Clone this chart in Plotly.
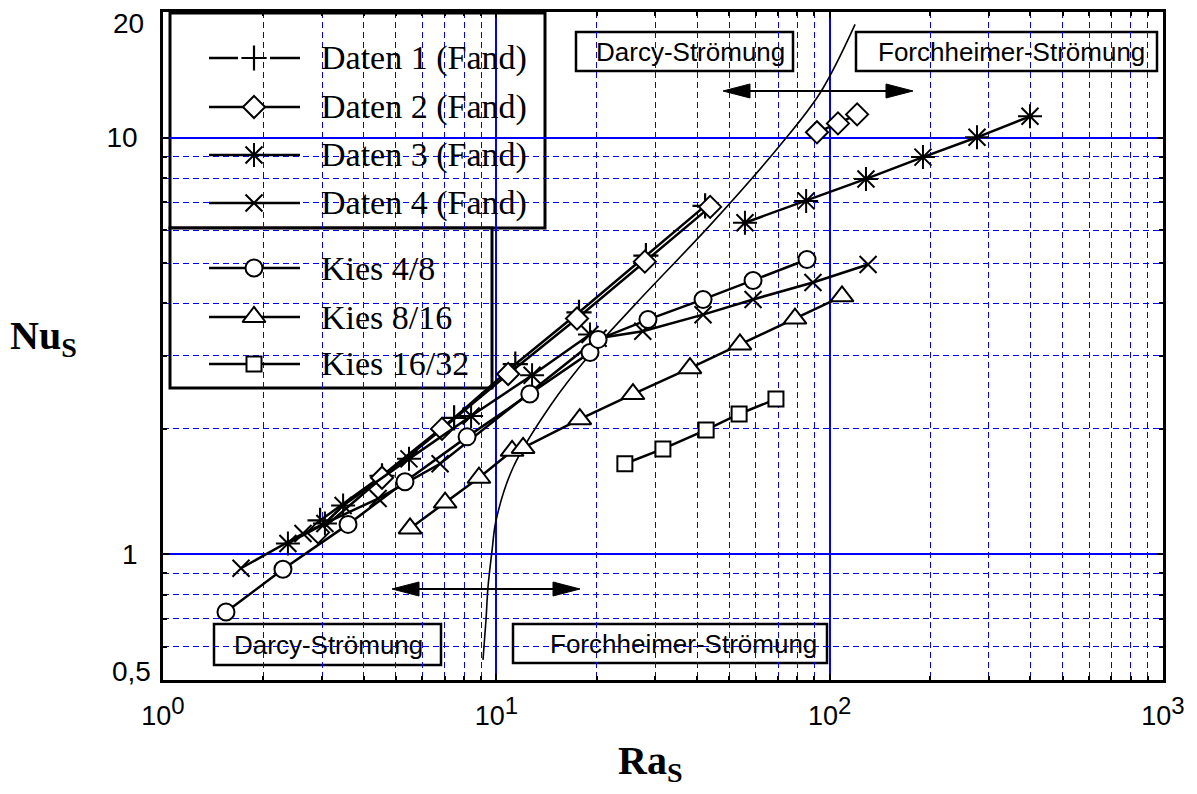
import math
import plotly.graph_objects as go

# ---------------- data ----------------
daten1_x = [2.96, 4.54, 7.47, 11.4, 17.7, 28.1, 42.3]
daten1_y = [1.206, 1.544, 2.126, 2.86, 3.81, 5.21, 6.86]

daten2_x = [2.92, 4.54, 6.87, 10.85, 17.46, 27.9, 43.8, None, 91.6, 105.9, 120.9]
daten2_y = [1.129, 1.527, 2.0, 2.71, 3.68, 5.04, 6.82, None, 10.3, 10.82, 11.37]

daten3_x = [2.37, 3.06, 3.47, 5.47, 8.40, 12.8, 19.1, None, 55.7, 85.0, 128.5, 190.5, 276.7, 399]
daten3_y = [1.062, 1.186, 1.31, 1.695, 2.148, 2.69, 3.37, None, 6.25, 7.05, 7.96, 8.98, 10.02, 11.25]

daten4_x = [1.714, 2.63, 4.42, 6.78, 20.2, 27.5, 41.7, 58.9, 89.1, 130.4]
daten4_y = [0.926, 1.122, 1.361, 1.65, 3.30, 3.43, 3.76, 4.09, 4.49, 4.96]

kies48_x = [1.545, 2.29, 3.59, 5.32, 8.17, 12.6, 19.1, 20.2, 28.5, 41.7, 58.9, 85.5]
kies48_y = [0.727, 0.921, 1.18, 1.494, 1.914, 2.425, 3.05, 3.28, 3.66, 4.09, 4.54, 5.10]

kies816_x = [5.51, 7.02, 8.87, 11.15, 12.03, 17.8, 25.7, 38.1, 53.8, 78.7, 108.9]
kies816_y = [1.154, 1.331, 1.527, 1.772, 1.801, 2.11, 2.425, 2.797, 3.19, 3.68, 4.16]

kies1632_x = [24.3, 31.6, 42.6, 53.5, 69.0]
kies1632_y = [1.650, 1.791, 1.989, 2.172, 2.358]

grenze_x = [9.12, 9.31, 9.44, 9.71, 9.98, 11.22, 14.5, 19.1, 26.1, 44.7, 71.0, 93.6, 119.2]
grenze_y = [0.558, 0.696, 0.834, 1.022, 1.206, 1.614, 2.27, 3.02, 3.98, 6.28, 9.59, 12.8, 18.7]

series_names = ["Daten 1 (Fand)", "Daten 2 (Fand)", "Daten 3 (Fand)", "Daten 4 (Fand)",
                "Kies 4/8", "Kies 8/16", "Kies 16/32"]

x_tickvals = [1, 10, 100, 1000]
x_exponents = ["0", "1", "2", "3"]
y_tickvals = [0.5, 1, 10, 20]
y_ticktext = ["0,5", "1", "10", "20"]
x_minor = [2, 3, 4, 5, 6, 7, 8, 9, 20, 30, 40, 50, 60, 70, 80, 90,
           200, 300, 400, 500, 600, 700, 800, 900]
y_minor = [0.6, 0.7, 0.8, 0.9, 2, 3, 4, 5, 6, 7, 8, 9]

x_ticktext = ["10<sup><span style='font-size:24px'>{}</span></sup>".format(e) for e in x_exponents]

# ---------------- layout geometry (screen pixels) ----------------
OFF = 8                      # default page body margin
W, H = 1197 - OFF, 794 - OFF
L, R, T, B = 163, 1163, 12, 680


def pxx(xp):
    return (xp - L) / (R - L)


def pxy(yp):
    return (B - yp) / (B - T)


SANS = "Liberation Sans, Arial, sans-serif"
SERIF = "Liberation Serif, Times New Roman, serif"

styles = [
    dict(symbol="cross-thin-open", size=18, color="black", line=dict(color="black", width=2.2)),
    dict(symbol="diamond", size=17, color="white", line=dict(color="black", width=2)),
    dict(symbol="asterisk-open", size=20, color="black", line=dict(color="black", width=2)),
    dict(symbol="x-thin-open", size=17, color="black", line=dict(color="black", width=2)),
    dict(symbol="circle", size=17, color="white", line=dict(color="black", width=2)),
    dict(symbol="triangle-up", size=20, color="white", line=dict(color="black", width=2)),
    dict(symbol="square", size=15, color="white", line=dict(color="black", width=2)),
]

xs = [daten1_x, daten2_x, daten3_x, daten4_x, kies48_x, kies816_x, kies1632_x]
ys = [daten1_y, daten2_y, daten3_y, daten4_y, kies48_y, kies816_y, kies1632_y]

fig = go.Figure()

# boundary curve
fig.add_trace(go.Scatter(x=grenze_x, y=grenze_y, mode="lines",
                         line=dict(color="black", width=1.6, shape="spline", smoothing=1.0),
                         showlegend=False, hoverinfo="skip"))

for name, x, y, st in zip(series_names, xs, ys, styles):
    fig.add_trace(go.Scatter(x=x, y=y, mode="lines+markers", name=name,
                             line=dict(color="black", width=2.5),
                             marker=st, showlegend=False, connectgaps=False))

# ---------------- custom legend (two boxes) ----------------
legend_rows_px = [58, 107, 155, 203, 268, 317, 364]
for i, (name, st, ry) in enumerate(zip(series_names, styles, legend_rows_px)):
    yy = pxy(ry)
    if i == 0:
        lx = [pxx(209), pxx(238), None, pxx(270), pxx(300)]
        ly = [yy, yy, None, yy, yy]
    else:
        lx = [pxx(209), pxx(300)]
        ly = [yy, yy]
    fig.add_trace(go.Scatter(x=lx, y=ly, mode="lines", xaxis="x2", yaxis="y2",
                             line=dict(color="black", width=2.5), showlegend=False,
                             hoverinfo="skip"))
    fig.add_trace(go.Scatter(x=[pxx(254)], y=[yy], mode="markers", xaxis="x2", yaxis="y2",
                             marker=st, showlegend=False, hoverinfo="skip"))

annotations = []
for name, ry in zip(series_names, legend_rows_px):
    annotations.append(dict(x=pxx(319), y=pxy(ry), xref="paper", yref="paper",
                            text=name, showarrow=False, xanchor="left", yanchor="middle",
                            font=dict(family=SERIF, size=34, color="black")))

shapes = []


def rect(x0, y0, x1, y1, lw=2.5):
    shapes.append(dict(type="rect", xref="paper", yref="paper",
                       x0=pxx(x0), x1=pxx(x1), y0=pxy(y1), y1=pxy(y0),
                       line=dict(color="black", width=lw), fillcolor="white",
                       layer="between"))


rect(170, 13, 545, 228, 3)
rect(170, 228, 492, 388, 3)
rect(576, 32, 793, 71, 2.5)
rect(856, 32, 1157, 71, 2.5)
rect(214, 624, 441, 665, 2.5)
rect(513, 624, 827, 663, 2.5)

box_texts = [("Darcy-Strömung", 690, 52), ("Forchheimer-Strömung", 1011, 52),
             ("Darcy-Strömung", 328, 645), ("Forchheimer-Strömung", 683, 644)]
for t, cx, cy in box_texts:
    annotations.append(dict(x=pxx(cx), y=pxy(cy), xref="paper", yref="paper", text=t,
                            showarrow=False, xanchor="center", yanchor="middle",
                            font=dict(family=SANS, size=26, color="black")))


def arrow(x0, x1, yv, hl=27, hh=7):
    shapes.append(dict(type="line", xref="paper", yref="paper",
                       x0=pxx(x0 + hl - 2), x1=pxx(x1 - hl + 2), y0=pxy(yv), y1=pxy(yv),
                       line=dict(color="black", width=2)))
    for tip, base in ((x0, x0 + hl), (x1, x1 - hl)):
        path = "M {:.5f},{:.5f} L {:.5f},{:.5f} L {:.5f},{:.5f} Z".format(
            pxx(tip), pxy(yv), pxx(base), pxy(yv - hh), pxx(base), pxy(yv + hh))
        shapes.append(dict(type="path", xref="paper", yref="paper", path=path,
                           fillcolor="black", line=dict(color="black", width=1)))


arrow(723, 913, 91)
arrow(392, 580, 589)

# edge tick labels (the original draws them pulled inside the frame)
YFONT = 28
shown_ticktext = [t if v not in (0.5, 20) else "" for v, t in zip(y_tickvals, y_ticktext)]
for v, t in zip(y_tickvals, y_ticktext):
    if v == 20:
        annotations.append(dict(x=pxx(146), y=pxy(23), xref="paper", yref="paper", text=t,
                                showarrow=False, xanchor="right", yanchor="middle",
                                font=dict(family=SANS, size=YFONT, color="black")))
    elif v == 0.5:
        annotations.append(dict(x=pxx(153), y=pxy(671), xref="paper", yref="paper", text=t,
                                showarrow=False, xanchor="right", yanchor="middle",
                                font=dict(family=SANS, size=YFONT, color="black")))

# axis titles
annotations.append(dict(x=pxx(8), y=pxy(338), xref="paper", yref="paper",
                        text="<b>Nu<sub>S</sub></b>", showarrow=False,
                        xanchor="left", yanchor="middle",
                        font=dict(family=SERIF, size=40, color="black")))
annotations.append(dict(x=pxx(616), y=pxy(763), xref="paper", yref="paper",
                        text="<b>Ra<sub>S</sub></b>", showarrow=False,
                        xanchor="left", yanchor="middle",
                        font=dict(family=SERIF, size=40, color="black")))

grid_dash = "6px,4px"
common = dict(type="log", showline=True, linewidth=2.5, linecolor="black",
              mirror="allticks", ticks="inside", ticklen=6, tickwidth=1.5,
              tickcolor="black", showgrid=True, gridcolor="#0000ff", gridwidth=1.5,
              zeroline=False, automargin=False, ticklabeloverflow="allow")

fig.update_layout(
    width=W, height=H,
    margin=dict(l=L - OFF, r=(W + OFF) - R, t=T - OFF, b=(H + OFF) - B, pad=0),
    paper_bgcolor="white", plot_bgcolor="white",
    showlegend=False,
    xaxis=dict(**common, range=[0, 3], tickmode="array", tickvals=x_tickvals,
               ticktext=x_ticktext, tickfont=dict(family=SANS, size=27, color="black"),
               ticklabelstandoff=10,
               minor=dict(tickmode="array", tickvals=x_minor, ticks="inside", ticklen=4,
                          tickcolor="black", showgrid=True, gridcolor="#0000ff",
                          griddash=grid_dash, gridwidth=1)),
    yaxis=dict(**common, range=[math.log10(0.5) - 0.0005, math.log10(20) + 0.0005],
               tickmode="array", tickvals=y_tickvals, ticktext=shown_ticktext,
               tickfont=dict(family=SANS, size=YFONT, color="black"),
               ticklabelstandoff=17,
               minor=dict(tickmode="array", tickvals=y_minor, ticks="inside", ticklen=4,
                          tickcolor="black", showgrid=True, gridcolor="#0000ff",
                          griddash=grid_dash, gridwidth=1)),
    xaxis2=dict(overlaying="x", anchor="y2", range=[0, 1], visible=False, fixedrange=True),
    yaxis2=dict(overlaying="y", anchor="x2", range=[0, 1], visible=False, fixedrange=True),
    shapes=shapes,
    annotations=annotations,
)

fig.write_html("out.html")
